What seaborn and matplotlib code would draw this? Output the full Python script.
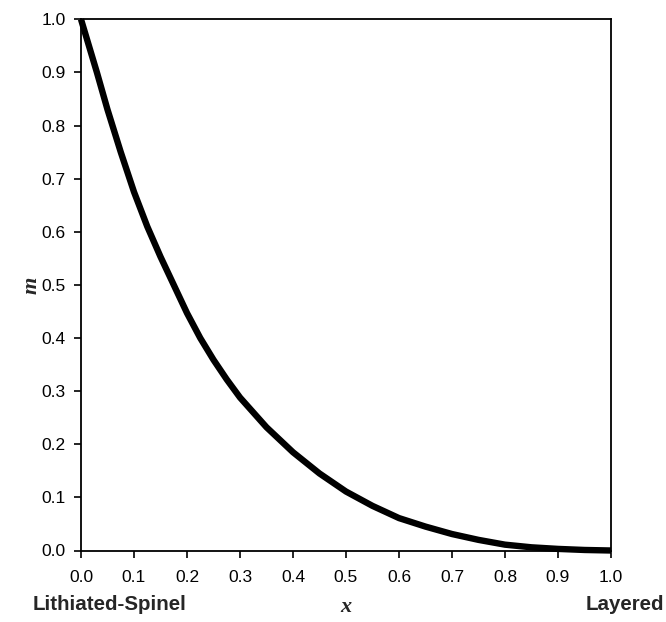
import matplotlib
matplotlib.use("Agg")
import matplotlib.pyplot as plt
import seaborn as sns
import pandas as pd

# Data
x_vals = [0.0, 0.03, 0.05, 0.075, 0.1, 0.125, 0.15, 0.175, 0.2, 0.225, 0.25, 0.275, 0.3, 0.35,
          0.4, 0.45, 0.5, 0.55, 0.6, 0.65, 0.7, 0.75, 0.8, 0.85, 0.9, 0.95, 1.0]
m_vals = [1.0, 0.90, 0.83, 0.75, 0.675, 0.61, 0.553, 0.500, 0.447, 0.40, 0.359, 0.322, 0.288, 0.232,
          0.185, 0.145, 0.111, 0.084, 0.061, 0.045, 0.031, 0.020, 0.011, 0.006, 0.003, 0.001, 0.0]
x_ticks = [0.0, 0.1, 0.2, 0.3, 0.4, 0.5, 0.6, 0.7, 0.8, 0.9, 1.0]
y_ticks = [0.0, 0.1, 0.2, 0.3, 0.4, 0.5, 0.6, 0.7, 0.8, 0.9, 1.0]
x_label = "x"
y_label = "m"
left_end_label = "Lithiated-Spinel"
right_end_label = "Layered"

df = pd.DataFrame({"x": x_vals, "m": m_vals})

sns.set_style("ticks")
plt.rcParams["font.family"] = ["Liberation Sans", "DejaVu Sans"]
plt.rcParams["lines.solid_joinstyle"] = "round"

fig = plt.figure(figsize=(6.66, 6.22), dpi=100)
ax = fig.add_axes([81 / 666, 1 - 550.5 / 622, 530 / 666, 531.2 / 622])

sns.lineplot(data=df, x="x", y="m", ax=ax, color="black", linewidth=4.6,
             solid_capstyle="butt", clip_on=False)

ax.set_xlim(0, 1)
ax.set_ylim(0, 1)
ax.set_xticks(x_ticks)
ax.set_yticks(y_ticks)
ax.set_xticklabels([f"{v:.1f}" for v in x_ticks])
ax.set_yticklabels([f"{v:.1f}" for v in y_ticks])
ax.tick_params(axis="both", direction="out", length=5, width=1.2, labelsize=12.5,
               colors="black", pad=6)
ax.tick_params(axis="x", pad=9)
for s in ax.spines.values():
    s.set_visible(True)
    s.set_linewidth(1.3)
    s.set_color("black")

ax.set_xlabel("")
ax.set_ylabel("")
fig.text(346 / 666, 1 - 607 / 622, x_label, family="Liberation Serif", style="italic",
         weight="bold", fontsize=16, ha="center", va="center")
fig.text(32 / 666, 1 - 285 / 622, y_label, family="Liberation Serif", style="italic",
         weight="bold", fontsize=16, ha="center", va="center", rotation=90)
fig.text(33 / 666, 1 - 605 / 622, left_end_label, weight="bold", fontsize=14.8,
         ha="left", va="center")
fig.text(664 / 666, 1 - 605 / 622, right_end_label, weight="bold", fontsize=14.8,
         ha="right", va="center")

fig.savefig("out.png", dpi=100, facecolor="white")
